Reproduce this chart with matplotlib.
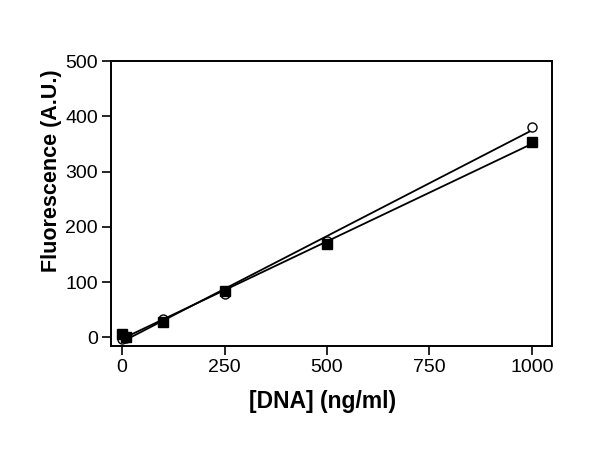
import numpy as np
import matplotlib
matplotlib.use("Agg")
import matplotlib.pyplot as plt

plt.rcParams['font.family'] = ['Liberation Sans', 'DejaVu Sans']

dna = [0, 10, 100, 250, 500, 1000]
open_vals = [-3, -1, 33, 78, 175, 381]
filled_vals = [6, 0, 27, 84, 168, 354]

xticks = [0, 250, 500, 750, 1000]
yticks = [0, 100, 200, 300, 400, 500]

fig = plt.figure(figsize=(6, 4.5), dpi=100)
ax = fig.add_axes([0.185, 0.231, 0.735, 0.633])

x = np.array(dna, dtype=float)
for vals, marker, fc in [(open_vals, 'o', 'white'), (filled_vals, 's', 'black')]:
    y = np.array(vals, dtype=float)
    m, b = np.polyfit(x, y, 1)
    xl = np.array([x.min(), x.max()])
    ax.plot(xl, m * xl + b, color='black', lw=1.3, zorder=2)
    ax.plot(x, y, linestyle='none', marker=marker, markersize=6.5,
            markerfacecolor=fc, markeredgecolor='black', markeredgewidth=1.0, zorder=3)

ax.set_xlim(-27, 1049)
ax.set_ylim(-16, 500)
ax.set_xticks(xticks)
ax.set_yticks(yticks)
ax.tick_params(direction='out', length=6.5, width=1.2, labelsize=14, color='black', pad=3)
for s in ax.spines.values():
    s.set_linewidth(1.4)
ax.set_xlabel('[DNA] (ng/ml)', fontsize=16.5, fontweight='bold')
ax.set_ylabel('Fluorescence (A.U.)', fontsize=15.5, fontweight='bold')
ax.xaxis.set_label_coords(0.48, -0.155)
ax.yaxis.set_label_coords(-0.111, 0.617)

fig.savefig('out.png', dpi=100)
